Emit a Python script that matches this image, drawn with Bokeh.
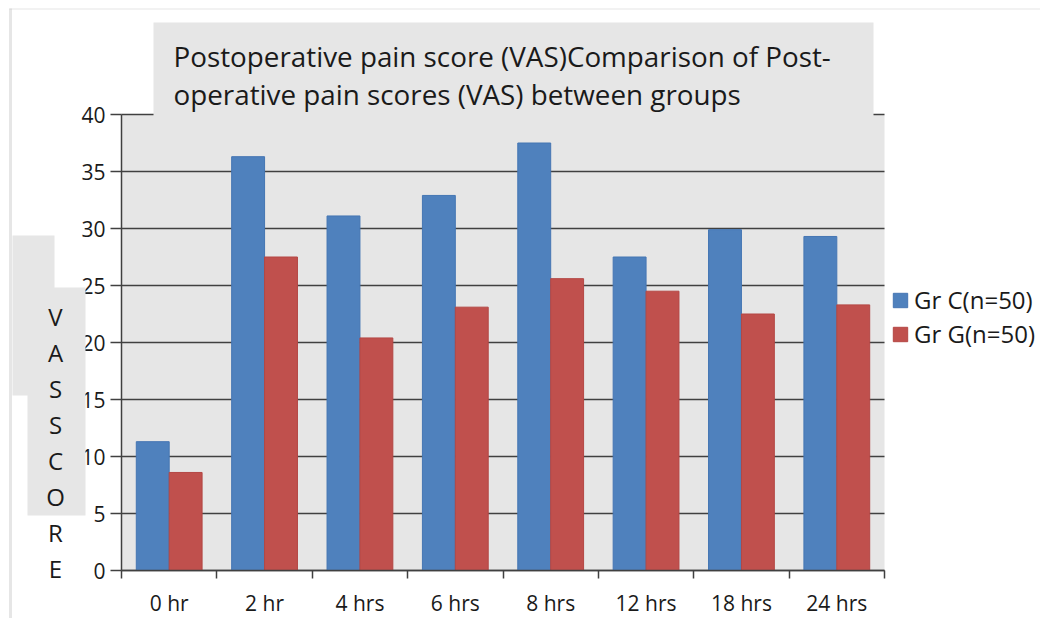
import numpy as np
from bokeh.plotting import figure
from bokeh.models import (Range1d, FixedTicker, Label, BoxAnnotation, Legend, LegendItem)
from bokeh.embed import file_html
from bokeh.resources import INLINE

categories = ["0 hr", "2 hr", "4 hrs", "6 hrs", "8 hrs", "12 hrs", "18 hrs", "24 hrs"]
group_c = [11.3, 36.3, 31.1, 32.9, 37.5, 27.5, 29.9, 29.3]
group_g = [8.6, 27.5, 20.4, 23.1, 25.6, 24.5, 22.5, 23.3]
series_names = ["Gr C(n=50)", "Gr G(n=50)"]
y_ticks = [0, 5, 10, 15, 20, 25, 30, 35, 40]
title_lines = ["Postoperative pain score (VAS)Comparison of Post-",
               "operative pain scores (VAS) between groups"]
y_label = "VASSCORE"

FONT = "Open Sans"
BG = "#e6e6e6"
BLUE, BLUE_LINE = "#4f81bd", "#4576b3"
RED, RED_LINE = "#c0504d", "#b44744"
TXT = "#1a1a1a"
GRID = "#404040"

n = len(categories)
y_max = y_ticks[-1]
W, H = 1040, 618
X0, Y0 = 121, 570                 # page position of the plot origin (px)
plot_w, plot_h = 763, 456         # size of the grey plot area (px)
ux = plot_w / n                   # px per category
uy = plot_h / y_max               # px per VAS unit


def px2x(px):
    return (px - X0) / ux


def px2y(py):
    return (Y0 - py) / uy


p = figure(width=W, height=H,
           x_range=Range1d(px2x(0), px2x(W)), y_range=Range1d(px2y(H), px2y(0)),
           output_backend="svg", toolbar_location=None,
           min_border_left=0, min_border_right=0, min_border_top=0, min_border_bottom=0,
           background_fill_color="white", border_fill_color="white", outline_line_color=None)

# grey plot area
p.add_layout(BoxAnnotation(left=0, right=n, bottom=0, top=y_max, fill_color=BG,
                           fill_alpha=1.0, line_color=None, level="image"))

centers = np.arange(n) + 0.5
bw = 0.345
r1 = p.vbar(x=centers - bw / 2, top=group_c, width=bw, fill_color=BLUE, line_color=BLUE_LINE)
r2 = p.vbar(x=centers + bw / 2, top=group_g, width=bw, fill_color=RED, line_color=RED_LINE)

# grid
p.xgrid.visible = False
p.ygrid.ticker = FixedTicker(ticks=y_ticks)
p.ygrid.grid_line_color = GRID
p.ygrid.grid_line_width = 1.3
try:
    p.ygrid.cross_bounds = (0, n)
except Exception:
    p.ygrid.visible = False
    p.segment(x0=0, x1=n, y0=y_ticks, y1=y_ticks, line_color=GRID, line_width=1.3,
              level="underlay")

# y axis (fixed at x = 0)
ya = p.yaxis[0]
ya.fixed_location = 0
ya.bounds = (0, y_max)
ya.ticker = FixedTicker(ticks=y_ticks)
ya.axis_line_color = GRID
ya.axis_line_width = 1.5
ya.major_tick_line_color = GRID
ya.major_tick_line_width = 1.5
ya.major_tick_out = 11
ya.major_tick_in = 0
ya.minor_tick_line_color = None
ya.major_label_standoff = 5
ya.major_label_text_font = FONT
ya.major_label_text_font_size = "21px"
ya.major_label_text_color = TXT

# x axis (fixed at y = 0): labels at centers, ticks at boundaries
xa = p.xaxis[0]
xa.fixed_location = 0
xa.bounds = (0, n)
xa.ticker = FixedTicker(ticks=list(centers), minor_ticks=list(range(n + 1)))
xa.major_label_overrides = {float(c): lab for c, lab in zip(centers, categories)}
xa.axis_line_color = GRID
xa.axis_line_width = 1.5
xa.major_tick_line_color = None
xa.major_tick_out = 0
xa.major_tick_in = 0
xa.minor_tick_line_color = GRID
xa.minor_tick_line_width = 1.5
xa.minor_tick_out = 8
xa.minor_tick_in = 0
xa.major_label_standoff = 10
xa.major_label_text_font = FONT
xa.major_label_text_font_size = "21px"
xa.major_label_text_color = TXT

# title box (overlaps the top of the plot area)
p.add_layout(BoxAnnotation(left=px2x(153), right=px2x(873), top=px2y(22), bottom=px2y(116.5),
                           fill_color=BG, fill_alpha=1.0, line_color=None))
for i, line in enumerate(title_lines):
    p.add_layout(Label(x=px2x(173), y=px2y(55 + 38 * i), text=line,
                       text_font=FONT, text_font_size="27.8px", text_color=TXT,
                       text_baseline="middle", text_align="left"))

# y-axis title: grey text boxes with stacked letters
p.add_layout(BoxAnnotation(left=px2x(12), right=px2x(54), top=px2y(235), bottom=px2y(395),
                           fill_color=BG, fill_alpha=1.0, line_color=None))
p.add_layout(BoxAnnotation(left=px2x(27), right=px2x(85), top=px2y(287), bottom=px2y(515),
                           fill_color=BG, fill_alpha=1.0, line_color=None))
for i, ch in enumerate(y_label):
    p.add_layout(Label(x=px2x(55), y=px2y(316 + 36 * i), text=ch,
                       text_font=FONT, text_font_size="24px", text_color=TXT,
                       text_baseline="middle", text_align="center"))

# outer chart border (left and top edges)
p.add_layout(BoxAnnotation(left=px2x(9), top=px2y(8.5), right=px2x(W + 50), bottom=px2y(8.5),
                           fill_color=None, line_color="#c8c8c8", line_width=1.5))
p.add_layout(BoxAnnotation(left=px2x(10), top=px2y(8), right=px2x(10), bottom=px2y(H + 50),
                           fill_color=None, line_color="#ababab", line_width=3))

# legend to the right of the plot area
legend = Legend(items=[LegendItem(label=series_names[0], renderers=[r1]),
                       LegendItem(label=series_names[1], renderers=[r2])],
                location=(891, H - 350), orientation="vertical",
                glyph_width=18, glyph_height=18, label_height=18,
                label_standoff=5, spacing=1, padding=0, margin=0,
                border_line_color=None, background_fill_alpha=0,
                label_text_font=FONT, label_text_font_size="24px",
                label_text_color=TXT)
p.add_layout(legend, "center")

open("out.html", "w").write(file_html(p, INLINE))
